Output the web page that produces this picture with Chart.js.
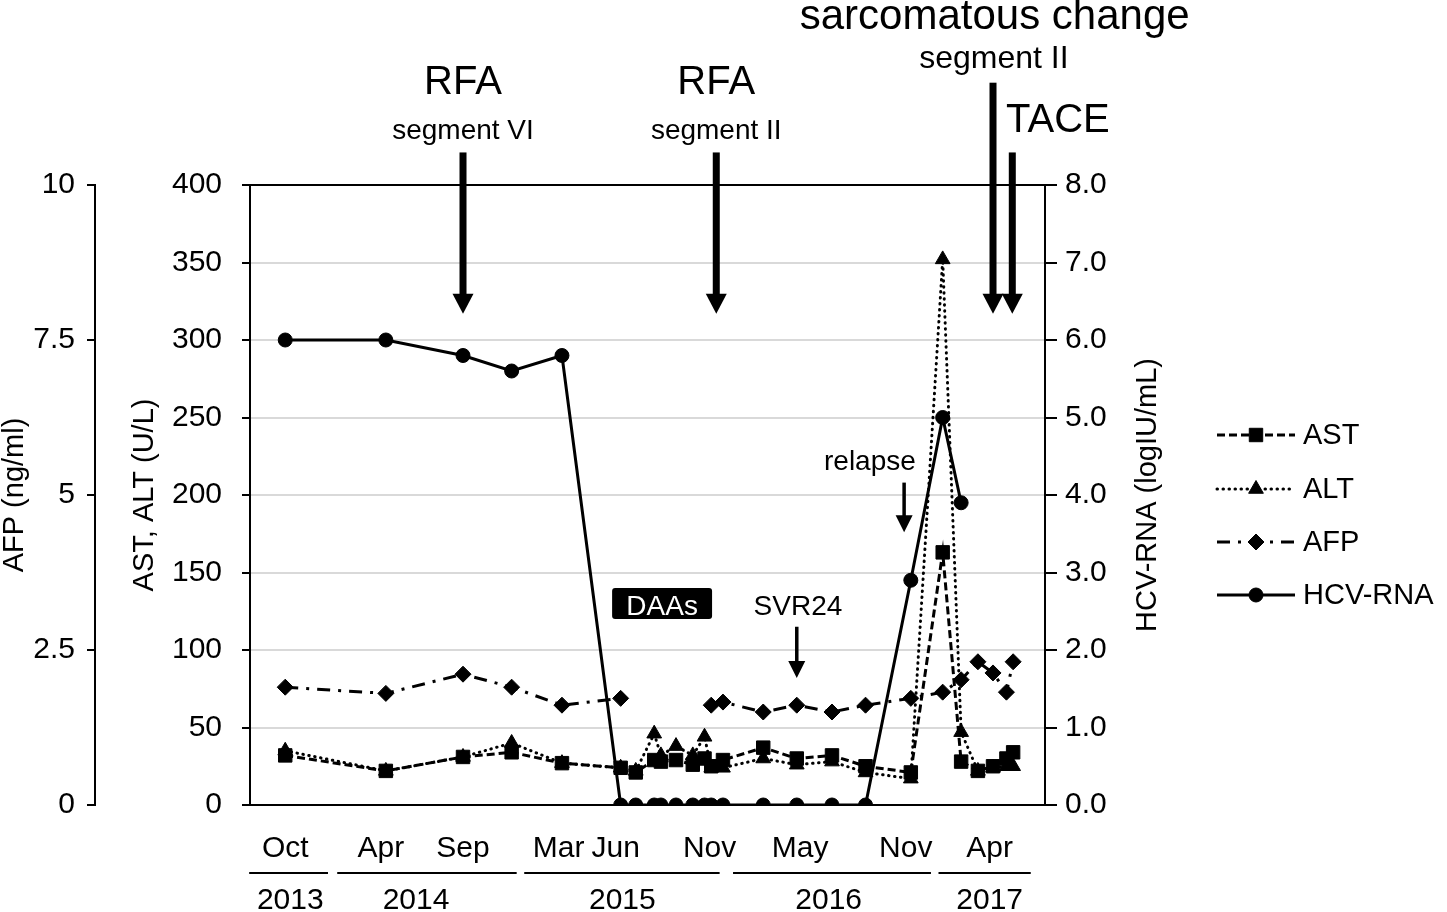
<!DOCTYPE html>
<html><head><meta charset="utf-8">
<script src="https://cdn.jsdelivr.net/npm/chart.js@4.4.0/dist/chart.umd.min.js"></script>
<style>html,body{margin:0;padding:0;background:#fff}canvas{display:block}</style>
</head><body>
<canvas id="c" width="1447" height="912"></canvas>
<script>
const FONT = '"Liberation Sans", Arial, Helvetica, sans-serif';

// sampling dates, in months since October 2013
const sampleMonths = [0, 6, 10.6, 13.5, 16.5, 20, 20.9, 22, 22.4, 23.3, 24.3, 25, 25.4, 26.1, 28.5, 30.5, 32.6, 34.6, 37.3, 39.2, 40.3, 41.3, 42.2, 43.0, 43.4];
// AST (U/L)
const astValues = [32, 22, 31, 34, 27, 24, 21, 29, 28, 29, 26, 30, 25, 29, 37, 30, 32, 25, 21, 163, 28, 22, 25, 30, 34];
// ALT (U/L)
const altValues = [35, 22, 31, 40, 27, 24, 22, 46, 32, 38, 32, 44, 24, 24, 30, 26, 28, 21, 17, 352, 47, 22, 24, 25, 25];
// AFP (ng/ml)
const afpValues = [1.90, 1.80, 2.11, 1.90, 1.61, 1.72, null, null, null, null, null, null, 1.61, 1.66, 1.50, 1.61, 1.50, 1.61, 1.72, 1.82, 2.02, 2.31, 2.13, 1.82, 2.31];
// HCV-RNA (logIU/mL)
const hcvValues = [6.0, 6.0, 5.8, 5.6, 5.8, 0, 0, 0, 0, 0, 0, 0, 0, 0, 0, 0, 0, 0, 2.9, 5.0, 3.9, null, null, null, null];

// month tick labels
const monthTickPositions = [0, 5.7, 10.6, 16.3, 19.7, 25.3, 30.7, 37, 42];
const monthTickLabels = ['Oct', 'Apr', 'Sep', 'Mar', 'Jun', 'Nov', 'May', 'Nov', 'Apr'];
// year row
const years = ['2013', '2014', '2015', '2016', '2017'];
const yearStart = [-2.15, 3.1, 14.25, 26.7, 38.95];
const yearEnd = [2.55, 13.8, 25.9, 38.5, 44.45];
const yearLabelAt = [0.3, 7.8, 20.1, 32.4, 42.0];

// annotations (x in months, y in AST/ALT units)
const bigArrows = [
  {x: 10.6, top: 421, tip: 317},
  {x: 25.7, top: 421, tip: 317},
  {x: 42.2, top: 466, tip: 317},
  {x: 43.35, top: 421, tip: 317}
];
const thinArrows = [
  {x: 36.9, top: 208, tip: 176},
  {x: 30.5, top: 115, tip: 82}
];
const notes = [
  {t: 'RFA', x: 10.6, y: 459, size: 40},
  {t: 'segment VI', x: 10.6, y: 430, size: 28},
  {t: 'RFA', x: 25.7, y: 459, size: 40},
  {t: 'segment II', x: 25.7, y: 430, size: 28},
  {t: 'sarcomatous change', x: 42.3, y: 500.6, size: 42},
  {t: 'segment II', x: 42.25, y: 475.5, size: 32},
  {t: 'TACE', x: 46.07, y: 434, size: 40},
  {t: 'relapse', x: 34.86, y: 216, size: 28},
  {t: 'SVR24', x: 30.57, y: 122.6, size: 28}
];
const daasBox = {t: 'DAAs', x0: 19.49, x1: 25.45, y0: 140, y1: 120, base: 122.6};

const pts = vals => sampleMonths.map((m, i) => ({x: m, y: vals[i] === undefined ? null : vals[i]}));

function drawMarker(ctx, style, r, cx, cy) {
  ctx.beginPath();
  if (style === 'rect') {
    const s = r * Math.SQRT1_2; ctx.rect(cx - s, cy - s, 2 * s, 2 * s);
  } else if (style === 'triangle') {
    let a = 0;
    ctx.moveTo(cx + Math.sin(a) * r, cy - Math.cos(a) * r);
    a += 2 * Math.PI / 3; ctx.lineTo(cx + Math.sin(a) * r, cy - Math.cos(a) * r);
    a += 2 * Math.PI / 3; ctx.lineTo(cx + Math.sin(a) * r, cy - Math.cos(a) * r);
    ctx.closePath();
  } else if (style === 'rectRot') {
    ctx.moveTo(cx - r, cy); ctx.lineTo(cx, cy - r); ctx.lineTo(cx + r, cy); ctx.lineTo(cx, cy + r); ctx.closePath();
  } else {
    ctx.arc(cx, cy, r, 0, Math.PI * 2);
  }
  ctx.fill(); ctx.stroke();
}

const overlay = {
  id: 'overlay',
  afterDraw(chart) {
    const {ctx, chartArea: ca, scales} = chart;
    const X = v => scales.x.getPixelForValue(v);
    const Y = v => scales.y.getPixelForValue(v);
    ctx.save();
    ctx.fillStyle = '#000'; ctx.strokeStyle = '#000';

    // axis titles
    const midY = (ca.top + ca.bottom) / 2;
    const titles = [
      {t: 'AFP (ng/ml)', x: scales.yAFP.left + 15},
      {t: 'AST, ALT (U/L)', x: scales.y.left + 50},
      {t: 'HCV-RNA (logIU/mL)', x: scales.yHCV.left + 103}
    ];
    ctx.font = '29px ' + FONT; ctx.textAlign = 'center'; ctx.textBaseline = 'middle';
    titles.forEach(o => {
      ctx.save(); ctx.translate(o.x, midY); ctx.rotate(-Math.PI / 2); ctx.fillText(o.t, 0, 0); ctx.restore();
    });

    // year row
    const lineY = ca.bottom + 68;
    ctx.lineWidth = 2;
    years.forEach((yr, i) => {
      ctx.beginPath(); ctx.moveTo(X(yearStart[i]), lineY); ctx.lineTo(X(yearEnd[i]), lineY); ctx.stroke();
      ctx.font = '30px ' + FONT; ctx.textAlign = 'center'; ctx.textBaseline = 'middle';
      ctx.fillText(yr, X(yearLabelAt[i]), lineY + 28);
    });

    // arrows
    const arrow = (a, shaft, hw, hh) => {
      const px = X(a.x), top = Y(a.top), tip = Y(a.tip);
      ctx.fillRect(px - shaft / 2, top, shaft, tip - hh - top + 1);
      ctx.beginPath(); ctx.moveTo(px - hw / 2, tip - hh); ctx.lineTo(px + hw / 2, tip - hh); ctx.lineTo(px, tip); ctx.closePath(); ctx.fill();
    };
    bigArrows.forEach(a => arrow(a, 7, 21, 20));
    thinArrows.forEach(a => arrow(a, 3.5, 17, 17));

    // notes
    ctx.textAlign = 'center'; ctx.textBaseline = 'alphabetic';
    notes.forEach(n => { ctx.font = n.size + 'px ' + FONT; ctx.fillText(n.t, X(n.x), Y(n.y)); });

    // DAAs box
    const bx0 = X(daasBox.x0), bx1 = X(daasBox.x1), by0 = Y(daasBox.y0), by1 = Y(daasBox.y1);
    ctx.beginPath();
    if (ctx.roundRect) ctx.roundRect(bx0, by0, bx1 - bx0, by1 - by0, 3); else ctx.rect(bx0, by0, bx1 - bx0, by1 - by0);
    ctx.fill();
    ctx.fillStyle = '#fff'; ctx.font = '28px ' + FONT;
    ctx.fillText(daasBox.t, (bx0 + bx1) / 2, Y(daasBox.base));
    ctx.fillStyle = '#000';

    // legend
    const lx0 = 1217, lx1 = 1295, rows = [435, 489, 542, 595];
    chart.data.datasets.forEach((ds, i) => {
      const yy = rows[i];
      ctx.save();
      ctx.lineWidth = ds.borderWidth; ctx.setLineDash(ds.borderDash || []); ctx.lineCap = ds.borderCapStyle || 'butt';
      ctx.beginPath(); ctx.moveTo(lx0, yy); ctx.lineTo(lx1, yy); ctx.stroke();
      ctx.restore();
      ctx.save(); ctx.lineWidth = 1; ctx.setLineDash([]);
      drawMarker(ctx, ds.pointStyle, ds.pointRadius, (lx0 + lx1) / 2, yy);
      ctx.restore();
      ctx.font = '29px ' + FONT; ctx.textAlign = 'left'; ctx.textBaseline = 'middle';
      ctx.fillText(ds.label, lx1 + 8, yy + 1);
    });
    ctx.restore();
  }
};

const tickFont = {family: FONT, size: 30};
new Chart(document.getElementById('c'), {
  type: 'line',
  data: {
    datasets: [
      {label: 'AST', data: pts(astValues), yAxisID: 'y', borderColor: '#000', backgroundColor: '#000', borderWidth: 3,
       borderDash: [8, 4], pointStyle: 'rect', pointRadius: 9.5, pointBorderWidth: 1, tension: 0},
      {label: 'ALT', data: pts(altValues), yAxisID: 'y', borderColor: '#000', backgroundColor: '#000', borderWidth: 3,
       borderDash: [0.5, 5.5], borderCapStyle: 'round', pointStyle: 'triangle', pointRadius: 8.5, pointBorderWidth: 1, tension: 0},
      {label: 'AFP', data: pts(afpValues), yAxisID: 'yAFP', borderColor: '#000', backgroundColor: '#000', borderWidth: 3,
       borderDash: [13, 8, 3, 8], pointStyle: 'rectRot', pointRadius: 8, pointBorderWidth: 1, spanGaps: false, tension: 0},
      {label: 'HCV-RNA', data: pts(hcvValues), yAxisID: 'yHCV', borderColor: '#000', backgroundColor: '#000', borderWidth: 3,
       pointStyle: 'circle', pointRadius: 7, pointBorderWidth: 1, spanGaps: false, tension: 0}
    ]
  },
  options: {
    responsive: false, animation: false, devicePixelRatio: 1,
    layout: {padding: {top: 185, left: 0, right: 0, bottom: 0}},
    plugins: {legend: {display: false}, tooltip: {enabled: false}},
    scales: {
      x: {
        type: 'linear', position: 'bottom', min: -2.1, max: 45.3,
        afterBuildTicks: s => { s.ticks = monthTickPositions.map(v => ({value: v})); },
        afterFit: s => { s.height = 107; },
        grid: {display: false},
        border: {display: true, color: '#000', width: 2},
        ticks: {autoSkip: false, maxRotation: 0, minRotation: 0, padding: 18, color: '#000', font: tickFont,
                callback: (v, i) => monthTickLabels[i]}
      },
      y: {
        position: 'left', weight: 0, min: 0, max: 400,
        afterFit: s => { s.width = 155; },
        grid: {color: c => (c.tick && (c.tick.value === 400 || c.tick.value === 0)) ? '#000' : '#d9d9d9',
               lineWidth: 2, tickColor: '#000', tickLength: 8},
        border: {display: true, color: '#000', width: 2},
        ticks: {stepSize: 50, padding: 20, color: '#000', font: tickFont}
      },
      yAFP: {
        position: 'left', weight: 1, min: 0, max: 10,
        afterFit: s => { s.width = 95; },
        grid: {drawOnChartArea: false, color: '#000', tickColor: '#000', lineWidth: 2, tickLength: 8},
        border: {display: true, color: '#000', width: 2},
        ticks: {stepSize: 2.5, padding: 12, color: '#000', font: tickFont}
      },
      yHCV: {
        position: 'right', min: 0, max: 8,
        afterFit: s => { s.width = 402; },
        grid: {drawOnChartArea: false, color: '#000', tickColor: '#000', lineWidth: 2, tickLength: 12},
        border: {display: true, color: '#000', width: 2},
        ticks: {stepSize: 1, padding: 8, color: '#000', font: tickFont, callback: v => Number(v).toFixed(1)}
      }
    }
  },
  plugins: [overlay]
});
</script>
</body></html>
